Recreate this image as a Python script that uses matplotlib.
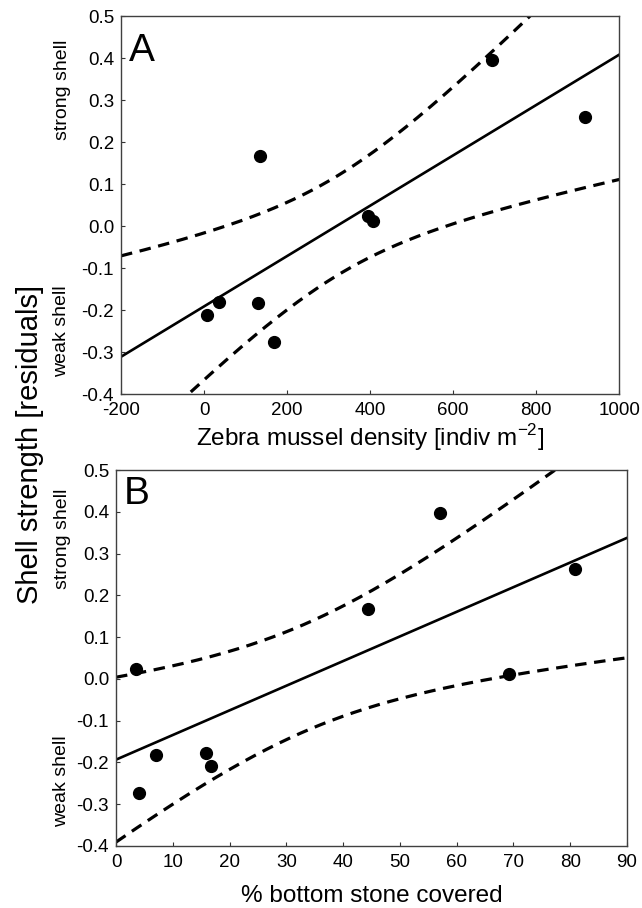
import numpy as np
import matplotlib
matplotlib.use("Agg")
import matplotlib.pyplot as plt
from matplotlib.transforms import blended_transform_factory

plt.rcParams['font.family'] = ['Liberation Sans', 'DejaVu Sans']
plt.rcParams['axes.unicode_minus'] = False
plt.rcParams['mathtext.fontset'] = 'custom'
plt.rcParams['mathtext.rm'] = 'Liberation Sans'

# residual shell strength (same sites in both panels)
densityA = [6, 36, 131, 134, 169, 394, 406, 694, 918]
residA = [-0.211, -0.180, -0.183, 0.167, -0.275, 0.025, 0.012, 0.396, 0.261]

stoneB = [3.5, 4.0, 7.1, 15.8, 16.7, 44.4, 57.0, 69.2, 80.9]
residB = [0.024, -0.274, -0.181, -0.177, -0.209, 0.168, 0.397, 0.012, 0.262]

yticks = [-0.4, -0.3, -0.2, -0.1, 0.0, 0.1, 0.2, 0.3, 0.4, 0.5]
xticksA = [-200, 0, 200, 400, 600, 800, 1000]
xticksB = [0, 10, 20, 30, 40, 50, 60, 70, 80, 90]

T975 = 2.365  # t quantile, df = 7


def fit_with_band(x, y, xs):
      x = np.asarray(x, float)
      y = np.asarray(y, float)
      b, a = np.polyfit(x, y, 1)
      res = y - (a + b * x)
      s = np.sqrt(np.sum(res ** 2) / (len(x) - 2))
      sxx = np.sum((x - x.mean()) ** 2)
      pred = a + b * xs
      half = T975 * s * np.sqrt(1.0 / len(x) + (xs - x.mean()) ** 2 / sxx)
      return pred, pred - half, pred + half


def draw_panel(ax, x, y, xlim, xticks, xlabel, letter, letter_y, labelpad):
      xs = np.linspace(xlim[0], xlim[1], 300)
      pred, lo, hi = fit_with_band(x, y, xs)
      ax.plot(xs, pred, color='black', lw=1.9)
      ax.plot(xs, lo, color='black', lw=2.3, dashes=(3.6, 2.4))
      ax.plot(xs, hi, color='black', lw=2.3, dashes=(3.6, 2.4))
      ax.plot(x, y, 'o', color='black', markersize=8.5)
      ax.set_xlim(xlim)
      ax.set_ylim(-0.4, 0.5)
      ax.set_xticks(xticks)
      ax.set_xticklabels([str(v) for v in xticks])
      ax.set_yticks(yticks)
      ax.set_yticklabels(['%.1f' % v for v in yticks])
      ax.tick_params(direction='in', length=3, width=0.8, labelsize=13.5, color='#333333')
      ax.tick_params(axis='x', pad=6)
      ax.tick_params(axis='y', pad=5)
      for sp in ax.spines.values():
            sp.set_color('#404040')
            sp.set_linewidth(1.0)
      ax.set_xlabel(xlabel, fontsize=17.5, labelpad=labelpad)
      ax.text(0.015, letter_y, letter, transform=ax.transAxes, fontsize=28, va='baseline', ha='left')
      tr = blended_transform_factory(fig.transFigure, ax.transData)
      return tr


fig = plt.figure(figsize=(6.42, 9.08), dpi=100)
axA = fig.add_axes([0.1885, 0.566, 0.776, 0.416])
axB = fig.add_axes([0.1807, 0.0683, 0.796, 0.414])

trA = draw_panel(axA, densityA, residA, (-200, 1000), xticksA,
                 'Zebra mussel density [indiv m$^{\\mathrm{-2}}$]', 'A', 0.881, 2)
trB = draw_panel(axB, stoneB, residB, (0, 90), xticksB,
                 '% bottom stone covered', 'B', 0.91, 10)

axA.text(0.0966, 0.325, 'strong shell', transform=trA, rotation=90, fontsize=14, ha='center', va='center')
axA.text(0.0966, -0.25, 'weak shell', transform=trA, rotation=90, fontsize=14, ha='center', va='center')
axB.text(0.0966, 0.335, 'strong shell', transform=trB, rotation=90, fontsize=14, ha='center', va='center')
axB.text(0.0966, -0.245, 'weak shell', transform=trB, rotation=90, fontsize=14, ha='center', va='center')

fig.text(0.046, 0.51, 'Shell strength [residuals]', rotation=90, fontsize=21, ha='center', va='center')

fig.savefig('out.png', dpi=100)
